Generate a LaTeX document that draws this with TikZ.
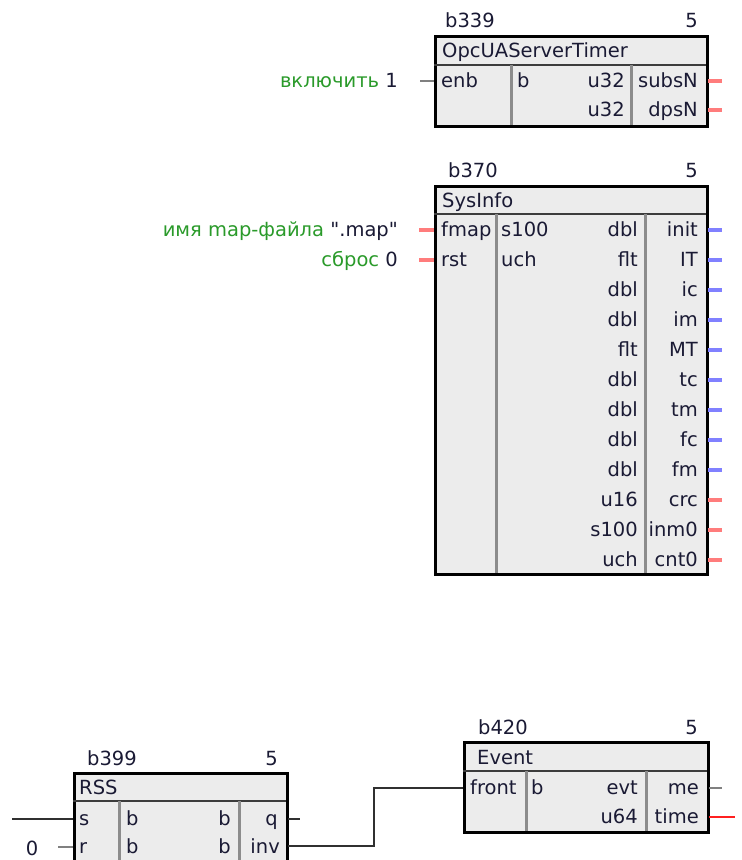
\documentclass[tikz,border=0pt]{standalone}
\usepackage{fontspec}
\setmainfont{DejaVu Sans}[Ligatures=TeXOff]
\definecolor{boxfill}{HTML}{ECECEC}
\definecolor{txt}{HTML}{1A1A34}
\definecolor{lblgreen}{HTML}{2A9A2A}
\definecolor{sepdark}{HTML}{3C3C3C}
\definecolor{colgray}{HTML}{8C8C8C}
\definecolor{pinkw}{HTML}{FF7C7C}
\definecolor{bluew}{HTML}{8080FF}
\definecolor{grayw}{HTML}{808080}
\definecolor{redw}{HTML}{FF2020}
\definecolor{darkw}{HTML}{303030}
\tikzset{
  blk/.style={draw=black,line width=3.2pt,fill=boxfill,anchor=north west,inner sep=0pt},
  tsep/.style={draw=sepdark,line width=2.2pt},
  csep/.style={draw=colgray,line width=3pt},
  txtL/.style={anchor=base west},
  txtR/.style={anchor=base east},
  stubP/.style={draw=pinkw,line width=3.2pt},
  stubB/.style={draw=bluew,line width=3.2pt},
  stubG/.style={draw=grayw,line width=2.6pt},
  stubR/.style={draw=redw,line width=2.6pt},
  wire/.style={draw=darkw,line width=2pt},
}
\begin{document}
\begin{tikzpicture}[x=1pt,y=-1pt,every node/.style={inner sep=0pt,font=\fontsize{19.5}{22}\selectfont,text=txt}]
\useasboundingbox (0,0) rectangle (742,860);
\clip (0,0) rectangle (742,860);

% ---------- b339 OpcUAServerTimer ----------
\node[blk,minimum width=272pt,minimum height=90pt] (opc) at (434,35) {};
\draw[tsep] (434,65) -- (706,65);
\draw[csep] (511,65) -- (511,125);
\draw[csep] (631,65) -- (631,125);
\node[txtL] (opch) at (445,27) {b339};
\node[txtR] (opcn) at (698,27) {5};
\node[txtL] (opct) at (442,57) {OpcUAServerTimer};
\node[txtL] (opc-enb-t) at (441,87) {enb};
\node[txtL] (opc-b-t) at (517,87) {b};
\node[txtR] (opc-u1) at (625,87) {u32};
\node[txtR] (opc-u2) at (625,116) {u32};
\node[txtR] (opc-o1) at (698,87) {subsN};
\node[txtR] (opc-o2) at (698,116) {dpsN};
\coordinate (opc-enb) at (434,81);
\coordinate (opc-enb-e) at (420,81);
\draw[stubG] (opc-enb-e) -- (opc-enb);
\node[txtR] (opc-lbl) at (398,87) {{\color{lblgreen}включить} 1};
\coordinate (opc-p1) at (708,81); \coordinate (opc-e1) at (722,81);
\coordinate (opc-p2) at (708,110); \coordinate (opc-e2) at (722,110);
\draw[stubP] (opc-p1) -- (opc-e1);
\draw[stubP] (opc-p2) -- (opc-e2);

% ---------- b370 SysInfo ----------
\node[blk,minimum width=272pt,minimum height=388pt] (si) at (434,185) {};
\draw[tsep] (434,214) -- (706,214);
\draw[csep] (496,214) -- (496,573);
\draw[csep] (645,214) -- (645,573);
\node[txtL] (sih) at (448,177) {b370};
\node[txtR] (sin) at (698,177) {5};
\node[txtL] (sit) at (442,207) {SysInfo};
\node[txtL] (si-fmap) at (441,236) {fmap};
\node[txtL] (si-rst) at (441,266) {rst};
\node[txtL] (si-s100) at (501,236) {s100};
\node[txtL] (si-uch) at (501,266) {uch};
\coordinate (si-i1) at (434,230); \coordinate (si-i1e) at (419,230);
\coordinate (si-i2) at (434,260); \coordinate (si-i2e) at (419,260);
\draw[stubP] (si-i1e) -- (si-i1);
\draw[stubP] (si-i2e) -- (si-i2);
\node[txtR] (si-l1) at (398,236) {{\color{lblgreen}имя map-файла} ".map"};
\node[txtR] (si-l2) at (398,266) {{\color{lblgreen}сброс} 0};
\foreach \t/\o/\c [count=\i from 0] in {dbl/init/stubB,flt/IT/stubB,dbl/ic/stubB,dbl/im/stubB,flt/MT/stubB,dbl/tc/stubB,dbl/tm/stubB,dbl/fc/stubB,dbl/fm/stubB,u16/crc/stubP,s100/inm0/stubP,uch/cnt0/stubP}{
  \pgfmathsetmacro\yy{230+30*\i}
  \node[txtR] (si-t\i) at (638,\yy+6) {\t};
  \node[txtR] (si-o\i) at (698,\yy+6) {\o};
  \coordinate (si-p\i) at (708,\yy);
  \coordinate (si-e\i) at (722,\yy);
  \draw[\c] (si-p\i) -- (si-e\i);
}

% ---------- b399 RSS ----------
\node[blk,minimum width=213pt,minimum height=120pt] (rss) at (73,772) {};
\draw[tsep] (73,801) -- (286,801);
\draw[csep] (119,801) -- (119,900);
\draw[csep] (239,801) -- (239,900);
\node[txtL] (rssh) at (87,765) {b399};
\node[txtR] (rssn) at (278,765) {5};
\node[txtL] (rsst) at (79,794) {RSS};
\node[txtL] (rss-s) at (79,825) {s};
\node[txtL] (rss-r) at (79,853) {r};
\node[txtL] (rss-b1) at (126,825) {b};
\node[txtL] (rss-b2) at (126,853) {b};
\node[txtR] (rss-b3) at (231,825) {b};
\node[txtR] (rss-b4) at (231,853) {b};
\node[txtR] (rss-q) at (278,825) {q};
\node[txtR] (rss-inv) at (280,853) {inv};
\coordinate (rss-si) at (73,819); \coordinate (rss-se) at (12,819);
\draw[wire] (rss-se) -- (rss-si);
\coordinate (rss-ri) at (73,847); \coordinate (rss-re) at (58,847);
\draw[stubG] (rss-re) -- (rss-ri);
\node (rss-zero) at (32,848) {0};
\coordinate (rss-qo) at (288,819); \coordinate (rss-qe) at (300,819);
\draw[wire] (rss-qo) -- (rss-qe);
\coordinate (rss-io) at (288,846);

% ---------- b420 Event ----------
\node[blk,minimum width=244pt,minimum height=90pt] (ev) at (463,741) {};
\draw[tsep] (463,771) -- (707,771);
\draw[csep] (526,771) -- (526,831);
\draw[csep] (646,771) -- (646,831);
\node[txtL] (evh) at (478,734) {b420};
\node[txtR] (evn) at (698,734) {5};
\node[txtL] (evt) at (477,764) {Event};
\node[txtL] (ev-front) at (470,794) {front};
\node[txtL] (ev-b) at (531,794) {b};
\node[txtR] (ev-evt) at (638,794) {evt};
\node[txtR] (ev-u64) at (638,823) {u64};
\node[txtR] (ev-me) at (699,794) {me};
\node[txtR] (ev-time) at (699,823) {time};
\coordinate (ev-fi) at (463,788);
\coordinate (ev-mo) at (709,788); \coordinate (ev-me-e) at (722,788);
\coordinate (ev-to) at (709,817); \coordinate (ev-te) at (735,817);
\draw[stubG] (ev-mo) -- (ev-me-e);
\draw[stubR] (ev-to) -- (ev-te);

% inv -> front
\draw[wire] (rss-io) -- (374,846) |- (ev-fi);
\end{tikzpicture}
\end{document}
